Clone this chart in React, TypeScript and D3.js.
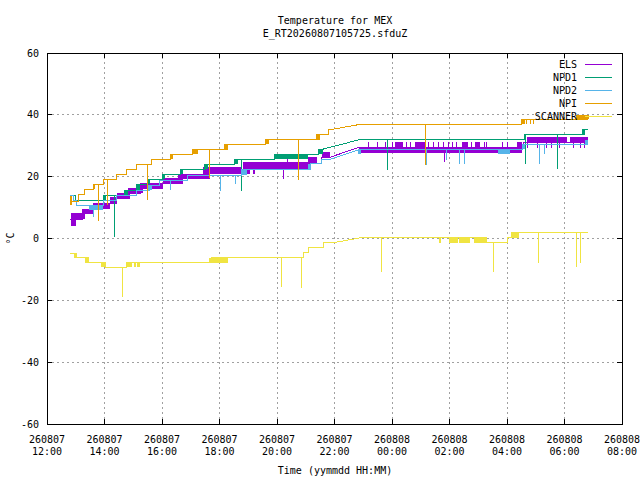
import * as d3 from "d3";

const START = new Date(2026, 7, 7, 12, 0);
const END = new Date(2026, 7, 8, 8, 0);
// hours after 12:00 with no telemetry (points across it are joined straight)
const GAP = [10.0, 10.8];

const yTicks = [-60, -40, -20, 0, 20, 40, 60];

// [hour, value] steps, [h0, h1, lo, hi] flicker bands, [hour, value] glitches
const elsSteps = [
  [0.8, 6.2], [1.22, 8.1], [1.6, 9.7], [2.19, 11.4], [2.43, 13.0], [2.81, 14.6],
  [3.24, 16.2], [4.03, 17.8], [4.56, 19.5], [5.43, 21.0], [6.82, 22.7], [9.08, 24.4],
  [9.56, 26.3], [9.85, 26.3], [10.85, 29.5], [16.59, 30.9], [18.82, 30.9],
];
const elsBands = [
  [0.84, 1.01, 4.2, 8.1], [0.87, 1.32, 6.2, 8.1], [1.22, 1.6, 8.1, 9.7],
  [1.6, 2.19, 9.7, 11.4], [2.19, 2.43, 11.4, 13.3], [2.43, 2.88, 12.7, 14.6],
  [2.81, 3.34, 14.6, 16.2], [3.24, 4.03, 16.2, 17.8], [4.03, 4.73, 17.5, 19.5],
  [4.56, 5.67, 19.1, 21.0], [5.43, 6.78, 21.0, 23.0], [6.82, 9.08, 22.7, 24.7],
  [6.96, 7.06, 21.0, 22.7], [7.16, 7.23, 21.0, 22.7],
  [9.08, 9.39, 24.4, 26.3], [9.56, 9.85, 26.3, 27.9], [10.85, 16.52, 27.8, 29.7],
  [12.1, 12.39, 29.7, 31.3], [12.8, 13.14, 29.7, 31.3], [14.43, 14.65, 29.7, 31.3],
  [14.89, 15.06, 29.7, 31.3], [16.35, 16.52, 29.7, 31.3],
  [16.69, 18.09, 30.9, 32.8], [18.19, 18.82, 30.9, 32.8],
];
const elsSpikes = [
  [8.21, 19.1], [8.38, 26.0], [13.84, 24.6],
  [11.17, 31.3], [11.48, 31.3], [11.76, 31.3], [12.03, 31.3], [12.49, 31.3],
  [12.66, 31.3], [13.28, 31.3], [13.43, 31.3], [13.6, 31.3], [13.78, 31.3],
  [13.95, 31.3], [14.12, 31.3], [14.26, 31.3], [14.75, 31.3], [15.2, 31.3],
  [15.3, 31.3], [15.83, 31.3], [16.0, 31.3],
  [16.73, 29.4], [17.05, 29.4], [17.39, 29.4], [17.56, 29.4], [17.84, 29.4],
  [18.3, 29.4], [18.54, 29.4], [18.68, 29.4],
];

const npd1Steps = [
  [0.8, 13.9], [0.98, 12.3], [1.95, 13.9], [2.71, 15.6], [3.13, 17.5], [3.51, 19.1],
  [4.0, 20.8], [4.63, 22.4], [5.5, 24.0], [6.51, 25.6], [7.9, 27.2], [9.46, 28.9],
  [9.6, 28.9], [10.88, 32.0], [16.62, 33.6], [18.61, 35.3], [18.82, 35.3],
];
const npd1Bands = [
  [1.95, 2.05, 12.3, 13.9], [2.71, 2.81, 13.9, 15.6], [3.13, 3.24, 15.6, 17.5],
  [3.48, 3.58, 17.5, 19.1], [4.0, 4.11, 19.1, 20.8], [4.63, 4.73, 20.8, 22.4],
  [5.46, 5.6, 22.4, 24.0], [6.51, 6.65, 24.0, 25.6], [7.9, 9.08, 25.6, 27.2],
  [9.46, 9.6, 27.2, 28.9], [16.59, 16.66, 32.0, 33.6], [18.61, 18.71, 33.6, 35.3],
];
const npd1Spikes = [[2.36, 0.6], [6.78, 15.3], [11.86, 22.0], [16.66, 24.0], [17.74, 22.4]];

const npd2Steps = [
  [0.8, 13.9], [0.91, 12.3], [1.04, 10.7], [1.95, 12.3], [2.43, 13.9], [3.13, 15.6],
  [3.58, 17.2], [3.93, 18.8], [4.87, 20.4], [6.78, 22.2], [9.15, 24.2], [9.56, 25.6],
  [9.85, 25.6], [10.88, 28.8], [16.55, 30.4], [18.82, 30.4],
];
const npd2Bands = [
  [1.46, 1.95, 9.1, 10.7], [3.51, 3.65, 15.6, 17.2], [6.78, 6.96, 20.4, 22.2],
  [9.08, 9.18, 22.2, 24.2], [10.81, 10.92, 27.2, 28.8], [15.69, 16.11, 27.2, 28.8],
  [16.52, 16.64, 28.8, 30.4], [18.71, 18.82, 30.4, 32.0],
];
const npd2Spikes = [
  [1.63, 7.0], [4.28, 15.6], [6.02, 15.3], [6.54, 17.5], [13.21, 23.7], [13.91, 25.3],
  [14.36, 24.0], [14.51, 24.0], [17.12, 24.0], [17.29, 27.2],
];

const npiSteps = [
  [0.8, 12.0], [1.08, 14.3], [1.32, 16.0], [1.6, 17.5], [1.95, 19.0], [2.43, 20.8],
  [2.78, 22.4], [3.13, 24.0], [3.65, 25.6], [4.28, 27.2], [5.07, 28.9], [6.29, 30.5],
  [7.59, 32.0], [9.39, 33.6], [9.8, 35.3], [9.92, 35.3], [10.88, 36.9], [16.52, 38.5],
  [18.82, 38.5],
];
const npiBands = [
  [0.8, 0.87, 10.7, 13.6], [1.6, 1.67, 16.0, 17.5], [4.28, 4.38, 25.6, 27.2],
  [5.07, 5.26, 27.2, 28.9], [6.15, 6.29, 28.9, 30.5], [7.59, 7.73, 30.5, 32.0],
  [9.39, 9.49, 32.0, 33.6], [16.52, 16.62, 36.9, 38.5], [18.4, 18.85, 38.5, 40.1],
];
const npiSpikes = [
  [1.78, 5.8], [2.12, 10.7], [3.48, 12.3], [5.64, 19.5], [8.74, 18.8], [13.18, 23.7],
  [16.69, 36.9], [16.8, 36.9], [16.91, 36.9],
];

const scannerSteps = [
  [0.8, -4.7], [1.04, -6.3], [1.46, -7.9], [2.02, -9.3], [2.78, -7.9], [5.71, -6.3],
  [8.91, -4.5], [9.11, -3.0], [9.6, -1.4], [9.95, -1.4], [10.88, 0.2], [15.27, -1.4],
  [16.0, 0.2], [16.14, 1.9], [18.82, 1.9],
];
const scannerBands = [
  [0.94, 1.04, -6.3, -4.7], [1.32, 1.46, -7.9, -6.3], [1.88, 2.02, -9.3, -7.9],
  [2.78, 2.96, -9.3, -7.9], [3.02, 3.1, -9.3, -7.9], [3.13, 3.24, -9.3, -7.9],
  [5.64, 6.29, -7.9, -6.3], [13.64, 13.71, -1.4, 0.2], [13.98, 14.29, -1.4, 0.2],
  [14.33, 14.72, -1.4, 0.2], [14.85, 15.27, -1.4, 0.2], [16.14, 16.42, 0.2, 1.9],
];
const scannerSpikes = [
  [2.61, -19.0], [8.14, -15.8], [8.84, -16.0], [11.65, -10.9], [15.54, -10.9],
  [17.08, -8.0], [18.4, -9.3], [18.54, -8.0],
];

const series = [
  { name: "ELS", color: "#9400d3", steps: elsSteps, bands: elsBands, spikes: elsSpikes },
  { name: "NPD1", color: "#009e73", steps: npd1Steps, bands: npd1Bands, spikes: npd1Spikes },
  { name: "NPD2", color: "#56b4e9", steps: npd2Steps, bands: npd2Bands, spikes: npd2Spikes },
  { name: "NPI", color: "#e69f00", steps: npiSteps, bands: npiBands, spikes: npiSpikes },
  { name: "SCANNER", color: "#f0e442", steps: scannerSteps, bands: scannerBands, spikes: scannerSpikes },
];

const font = "'DejaVu Sans Mono', monospace";

const toDate = (h: number) => new Date(START.getTime() + h * 3600e3);

// expand steps into a step-after polyline, straight across the data gap
const stepPoints = (steps: number[][]) => {
  const pts: number[][] = [];
  steps.forEach(([h, v], i) => {
    pts.push([h, v]);
    const next = steps[i + 1];
    if (next && !(h < GAP[0] && next[0] > GAP[1])) pts.push([next[0], v]);
  });
  return pts;
};

const valueAt = (steps: number[][], h: number) => {
  let v = steps[0][1];
  for (const s of steps) if (s[0] <= h) v = s[1];
  return v;
};

export default function App() {
  const margin = { top: 53, right: 18, bottom: 56, left: 47 };
  const width = 640;
  const height = 480;

  const x = d3.scaleTime().domain([START, END]).range([margin.left, width - margin.right]);
  const y = d3.scaleLinear().domain([-60, 60]).range([height - margin.bottom, margin.top]);

  const xTicks = x.ticks(d3.timeHour.every(2)!);
  const fmtDay = d3.timeFormat("%y%m%d");
  const fmtTime = d3.timeFormat("%H:%M");

  const line = d3
    .line<number[]>()
    .x((d) => x(toDate(d[0])))
    .y((d) => y(d[1]));

  const x0 = margin.left;
  const x1 = width - margin.right;
  const y0 = height - margin.bottom;
  const y1 = margin.top;

  return (
    <svg
      width={width}
      height={height}
      style={{ position: "absolute", left: 0, top: 0, background: "#fff" }}
      fontFamily={font}
      fontSize={10}
    >
      <rect width={width} height={height} fill="#fff" />

      {/* grid */}
      <g stroke="#a0a0a0" strokeDasharray="2,3" shapeRendering="crispEdges">
        {xTicks.slice(1, -1).map((t, i) => (
          <line key={i} x1={x(t)} x2={x(t)} y1={y0} y2={y1} />
        ))}
        {yTicks.slice(1, -1).map((t) => (
          <line key={t} x1={x0} x2={x1} y1={y(t)} y2={y(t)} />
        ))}
      </g>

      {/* data */}
      {series.map((s) => (
        <g key={s.name} shapeRendering="crispEdges">
          {s.bands.map(([h0, h1, lo, hi], i) => (
            <rect
              key={i}
              x={x(toDate(h0))}
              y={y(hi)}
              width={Math.max(1, x(toDate(h1)) - x(toDate(h0)))}
              height={y(lo) - y(hi)}
              fill={s.color}
            />
          ))}
          <path d={line(stepPoints(s.steps)) ?? ""} fill="none" stroke={s.color} strokeWidth={1} />
          {s.spikes.map(([h, v], i) => (
            <line
              key={i}
              x1={x(toDate(h))}
              x2={x(toDate(h))}
              y1={y(valueAt(s.steps, h))}
              y2={y(v)}
              stroke={s.color}
            />
          ))}
        </g>
      ))}

      {/* frame + ticks */}
      <g stroke="#000" shapeRendering="crispEdges">
        <rect x={x0} y={y1} width={x1 - x0} height={y0 - y1} fill="none" />
        {xTicks.map((t, i) => (
          <g key={i}>
            <line x1={x(t)} x2={x(t)} y1={y0} y2={y0 - 5} />
            <line x1={x(t)} x2={x(t)} y1={y1} y2={y1 + 5} />
          </g>
        ))}
        {yTicks.map((t) => (
          <g key={t}>
            <line x1={x0} x2={x0 + 5} y1={y(t)} y2={y(t)} />
            <line x1={x1} x2={x1 - 5} y1={y(t)} y2={y(t)} />
          </g>
        ))}
      </g>

      {/* tick labels */}
      {yTicks.map((t) => (
        <text key={t} x={x0 - 8} y={y(t)} dy="0.35em" textAnchor="end">
          {t}
        </text>
      ))}
      {xTicks.map((t, i) => (
        <text key={i} x={x(t)} textAnchor="middle">
          <tspan x={x(t)} y={y0 + 19}>{fmtDay(t)}</tspan>
          <tspan x={x(t)} y={y0 + 31}>{fmtTime(t)}</tspan>
        </text>
      ))}

      {/* titles */}
      <text x={335} y={24} textAnchor="middle">Temperature for MEX</text>
      <text x={335} y={37} textAnchor="middle">E_RT20260807105725.sfduZ</text>
      <text x={335} y={474} textAnchor="middle">Time (yymmdd HH:MM)</text>
      <text transform={`translate(14,${y(0)}) rotate(-90)`} textAnchor="middle">°C</text>

      {/* key */}
      {series.map((s, i) => {
        const ky = 64 + i * 13;
        return (
          <g key={s.name}>
            <text x={577} y={ky} dy="0.35em" textAnchor="end">{s.name}</text>
            <line x1={585} x2={612} y1={ky} y2={ky} stroke={s.color} shapeRendering="crispEdges" />
          </g>
        );
      })}
    </svg>
  );
}
